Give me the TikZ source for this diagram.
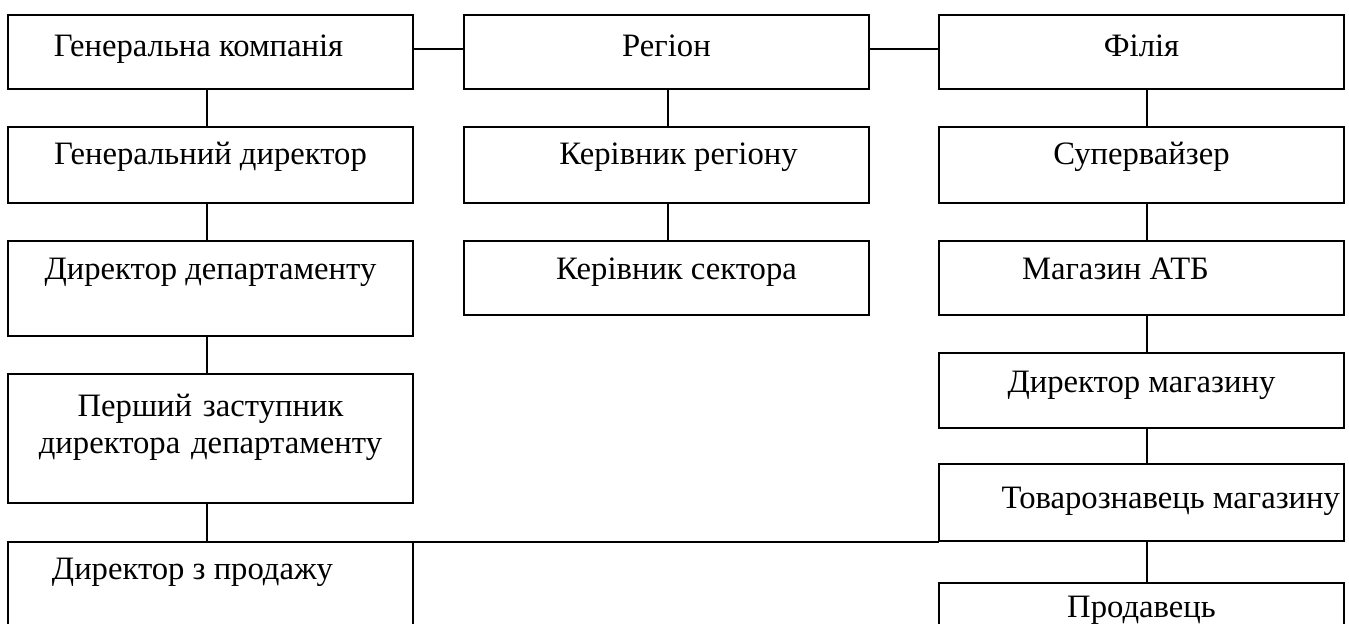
\documentclass[tikz,border=0pt]{standalone}
\usepackage{fontspec}
\setmainfont{Liberation Serif}
\usetikzlibrary{positioning}

\tikzset{
  unit/.style={draw, line width=1.3pt, anchor=north west, inner sep=0pt, outer sep=0pt,
    minimum width=303.75pt, font=\fontsize{24.5pt}{27.75pt}\selectfont},
  link/.style={line width=1.3pt},
  boldlink/.style={line width=2pt}
}

\begin{document}
\begin{tikzpicture}[x=0.75pt, y=-0.75pt]
\useasboundingbox (0,0) rectangle (1349,624);
\clip (0,0) rectangle (1349,624);

% top row
\node[unit, text height=31.5pt, text depth=24pt] (gen) at (8,15) {Генеральна компанія\hspace*{18pt}};
\node[unit, text height=31.5pt, text depth=24pt] (reg) at (464,15) {Регіон};
\node[unit, text height=31.5pt, text depth=24pt] (fil) at (939,15) {Філія};

% left column
\node[unit, text height=28.5pt, text depth=28.5pt] (gdir) at (8,127) {Генеральний директор};
\node[unit, text height=28.5pt, text depth=42.75pt] (ddep) at (8,241) {Директор департаменту};
\node[unit, text width=303.75pt, align=center, text height=31.5pt, text depth=65.25pt] (pzast) at (8,374)
  {Перший заступник\\директора департаменту};
\node[unit, text height=27.75pt, text depth=54.75pt] (zprod) at (8,542) {Директор з продажу\hspace*{27pt}};

% middle column
\node[unit, text height=28.5pt, text depth=28.5pt] (kreg) at (464,127) {\hspace*{18pt}Керівник регіону};
\node[unit, text height=28.5pt, text depth=27pt] (ksek) at (464,241) {\hspace*{15pt}Керівник сектора};

% right column
\node[unit, text height=28.5pt, text depth=28.5pt] (sup) at (939,127) {Супервайзер};
\node[unit, text height=28.5pt, text depth=27pt] (atb) at (939,241) {Магазин АТБ\hspace*{39pt}};
\node[unit, text height=29.25pt, text depth=27pt] (dmag) at (939,353) {Директор магазину};
\node[unit, text height=33pt, text depth=24.75pt] (tov) at (939,464) {\hspace*{44pt}Товарознавець магазину};
\node[unit, text height=25.5pt, text depth=34.5pt] (prod) at (939,583) {Продавець};

% links
\draw[link] ([yshift=2.25pt]gen.east) -- ([yshift=2.25pt]reg.west);
\draw[boldlink] ([yshift=2.25pt]reg.east) -- ([yshift=2.25pt]fil.west);

\draw[link] ([xshift=-2.6pt]gen.south) -- ([xshift=-2.6pt]gdir.north);
\draw[link] ([xshift=-2.6pt]gdir.south) -- ([xshift=-2.6pt]ddep.north);
\draw[link] ([xshift=-2.6pt]ddep.south) -- ([xshift=-2.6pt]pzast.north);
\draw[link] ([xshift=-2.6pt]pzast.south) -- ([xshift=-2.6pt]zprod.north);

\draw[link] ([xshift=1.1pt]reg.south) -- ([xshift=1.1pt]kreg.north);
\draw[link] ([xshift=1.1pt]kreg.south) -- ([xshift=1.1pt]ksek.north);

\draw[link] ([xshift=4.1pt]fil.south) -- ([xshift=4.1pt]sup.north);
\draw[link] ([xshift=4.1pt]sup.south) -- ([xshift=4.1pt]atb.north);
\draw[link] ([xshift=4.1pt]atb.south) -- ([xshift=4.1pt]dmag.north);
\draw[link] ([xshift=4.1pt]dmag.south) -- ([xshift=4.1pt]tov.north);
\draw[boldlink] ([xshift=4.1pt]tov.south) -- ([xshift=4.1pt]prod.north);

\draw[boldlink] (zprod.north east) -- (zprod.north east -| tov.south west);
\end{tikzpicture}
\end{document}
